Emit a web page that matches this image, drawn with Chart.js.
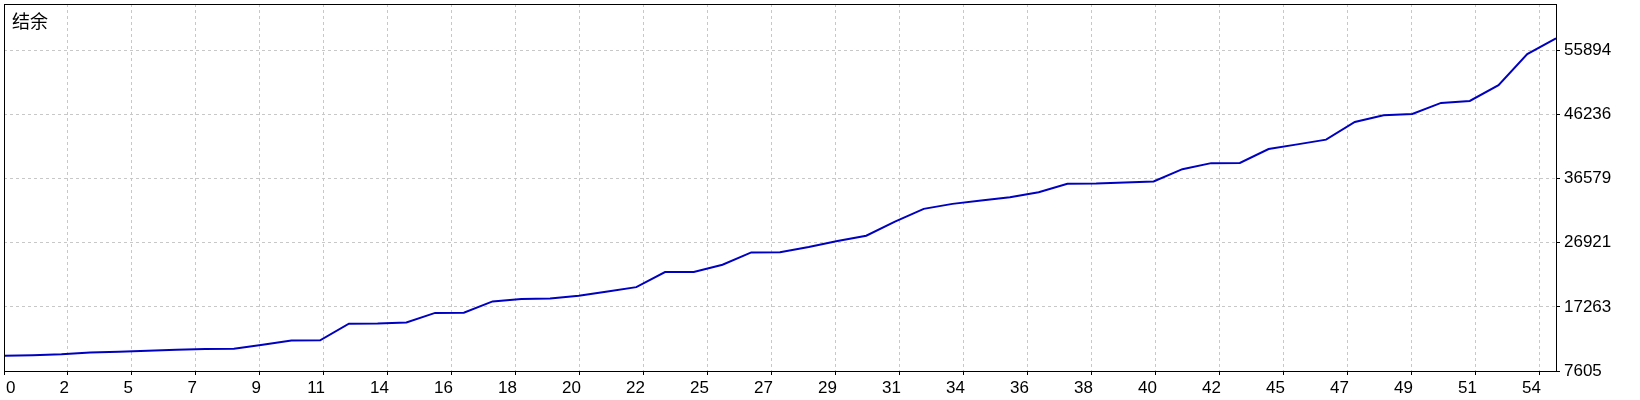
<!DOCTYPE html>
<html>
<head>
<meta charset="utf-8">
<script src="https://cdn.jsdelivr.net/npm/chart.js@4/dist/chart.umd.min.js"></script>
<style>
  html, body { margin: 0; padding: 0; background: #fff; }
  #wrap { width: 1640px; height: 400px; position: relative; }
</style>
</head>
<body>
<div id="wrap"><canvas id="balanceChart"></canvas></div>
<script>
// balance after each trade
const balance = [
  9901, 9977, 10128, 10385, 10506, 10657, 10808, 10929, 10959, 11548,
  12198, 12228, 14736, 14760, 14917, 16352, 16380, 18089, 18437, 18527,
  18950, 19570, 20234, 22501, 22530, 23603, 25462, 25490, 26277, 27184,
  27984, 30099, 32018, 32773, 33272, 33770, 34526, 35795, 35840, 35991,
  36142, 38000, 38907, 38930, 41022, 41732, 42442, 45101, 46113, 46309,
  47971, 48273, 50645, 55328, 57700
];
const xLabels = ['0', '2', '5', '7', '9', '11', '14', '16', '18', '20', '22', '25',
  '27', '29', '31', '34', '36', '38', '40', '42', '45', '47', '49', '51', '54'];
const yTicks = [7605, 17263, 26921, 36579, 46236, 55894];
const yMax = 62870;
const xGridStep = 2.2268;   // trades per grid cell

const FONT = '"Liberation Sans", Arial, sans-serif';

// frame round the plot + the x labels (right-aligned on their grid line, first one inside)
const framePlugin = {
  id: 'frame',
  afterDraw(chart) {
    const { ctx, chartArea: a, scales: { x } } = chart;
    ctx.save();
    ctx.strokeStyle = '#000';
    ctx.lineWidth = 1;
    ctx.strokeRect(Math.round(a.left) + 0.5, Math.round(a.top) + 0.5,
      Math.round(a.right - a.left), Math.round(a.bottom - a.top));

    ctx.font = '17px ' + FONT;
    ctx.fillStyle = '#000';
    ctx.textBaseline = 'alphabetic';
    x.ticks.forEach((t, k) => {
      const px = x.getPixelForValue(t.value);
      ctx.textAlign = k === 0 ? 'left' : 'right';
      ctx.fillText(xLabels[k], k === 0 ? px + 2 : px + 1, a.bottom + 22);
    });

    ctx.font = '18px "Noto Sans CJK SC", sans-serif';
    ctx.textAlign = 'left';
    ctx.textBaseline = 'alphabetic';
    ctx.fillText('结余', a.left + 8, a.top + 24);
    ctx.restore();
  }
};

new Chart(document.getElementById('balanceChart'), {
  type: 'line',
  data: {
    datasets: [{
      data: balance.map((v, i) => ({ x: i, y: v })),
      borderColor: '#0000c0',
      borderWidth: 2,
      pointRadius: 0,
      tension: 0,
      fill: false,
    }],
  },
  options: {
    responsive: true,
    maintainAspectRatio: false,
    animation: false,
    layout: { padding: { left: 4, top: 4, right: 0, bottom: 0 } },
    plugins: { legend: { display: false }, tooltip: { enabled: false } },
    scales: {
      x: {
        type: 'linear',
        min: 0,
        max: balance.length - 1,
        afterBuildTicks: (s) => { s.ticks = xLabels.map((_, k) => ({ value: k * xGridStep })); },
        afterFit: (s) => { s.height = 29; s.paddingLeft = 0; s.paddingRight = 0; },
        ticks: { display: false },
        grid: { color: '#c8c8c8', tickColor: '#000', tickLength: 4, tickBorderDash: [] },
        border: { display: true, color: '#000', dash: [3, 3] },
      },
      y: {
        position: 'right',
        min: yTicks[0],
        max: yMax,
        afterBuildTicks: (s) => { s.ticks = yTicks.map(v => ({ value: v })); },
        afterFit: (s) => { s.width = 84; s.paddingTop = 0; s.paddingBottom = 0; },
        ticks: {
          color: '#000',
          padding: 4,
          font: { family: FONT, size: 17 },
          callback: (v) => String(v),
        },
        grid: { color: '#c8c8c8', tickColor: '#000', tickLength: 4, tickBorderDash: [] },
        border: { display: true, color: '#000', dash: [3, 3] },
      },
    },
  },
  plugins: [framePlugin],
});
</script>
</body>
</html>
